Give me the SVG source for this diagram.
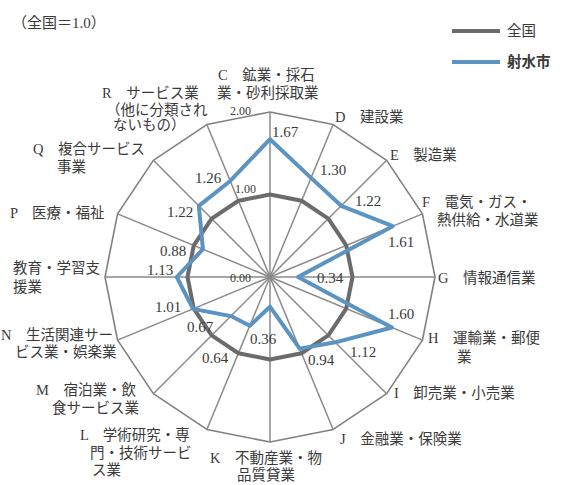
<svg xmlns="http://www.w3.org/2000/svg" width="563" height="485" viewBox="0 0 563 485">
<style>
  .lbl{font-family:"Liberation Serif","Noto Sans CJK JP",serif;font-size:14.5px;fill:#3a3a3a}
  .num{font-family:"Liberation Serif","Noto Sans CJK JP",serif;font-size:15px;fill:#3a3a3a}
  .sm{font-family:"Liberation Serif","Noto Sans CJK JP",serif;font-size:12px;fill:#3a3a3a}
  .grid{fill:none;stroke:#808080;stroke-width:1.6;stroke-linejoin:round}
  .spoke{stroke:#8a8a8a;stroke-width:1.5}
  .nat{fill:none;stroke:#6b6b6b;stroke-width:4;stroke-linejoin:round}
  .city{fill:none;stroke:#5b93c2;stroke-width:4;stroke-linejoin:round}
</style>
<rect width="563" height="485" fill="#ffffff"/>
<g id="connectors">
  <polygon class="grid" points="270,112 333.14,124.56 386.67,160.33 422.44,213.86 435,277 422.44,340.14 386.67,393.67 333.14,429.44 270,442 206.86,429.44 153.33,393.67 117.56,340.14 105,277 117.56,213.86 153.33,160.33 206.86,124.56"/>
  <g class="spoke">
    <line x1="270" y1="112" x2="270" y2="442"/>
    <line x1="333.14" y1="124.56" x2="206.86" y2="429.44"/>
    <line x1="386.67" y1="160.33" x2="153.33" y2="393.67"/>
    <line x1="422.44" y1="213.86" x2="117.56" y2="340.14"/>
    <line x1="435" y1="277" x2="105" y2="277"/>
    <line x1="422.44" y1="340.14" x2="117.56" y2="213.86"/>
    <line x1="386.67" y1="393.67" x2="153.33" y2="160.33"/>
    <line x1="333.14" y1="429.44" x2="206.86" y2="124.56"/>
  </g>
  <polygon id="national" class="nat" points="270,194.5 301.57,200.78 328.34,218.66 346.22,245.43 352.5,277 346.22,308.57 328.34,335.34 301.57,353.22 270,359.5 238.43,353.22 211.66,335.34 193.78,308.57 187.5,277 193.78,245.43 211.66,218.66 238.43,200.78"/>
  <polygon id="imizu" class="city" points="270,139.22 311.04,177.91 341.17,205.83 392.72,226.17 298.05,277 391.95,327.51 335.34,342.34 299.68,348.65 270,306.7 249.79,325.78 230.91,316.09 193.02,308.89 176.77,277 202.93,249.22 198.83,205.83 230.22,180.96"/>
</g>
<g id="scale">
  <text class="sm" x="230" y="115">2.00</text>
  <text class="sm" x="235" y="193">1.00</text>
  <text class="sm" x="230" y="282">0.00</text>
</g>
<g id="values">
  <text class="num" x="272" y="137">1.67</text>
  <text class="num" x="320" y="175">1.30</text>
  <text class="num" x="355" y="206">1.22</text>
  <text class="num" x="388" y="247">1.61</text>
  <text class="num" x="317" y="283">0.34</text>
  <text class="num" x="388" y="319">1.60</text>
  <text class="num" x="350" y="357">1.12</text>
  <text class="num" x="308" y="365">0.94</text>
  <text class="num" x="250" y="344">0.36</text>
  <text class="num" x="202" y="363">0.64</text>
  <text class="num" x="187" y="332">0.67</text>
  <text class="num" x="155" y="312">1.01</text>
  <text class="num" x="147" y="275">1.13</text>
  <text class="num" x="160" y="256">0.88</text>
  <text class="num" x="167" y="217">1.22</text>
  <text class="num" x="195" y="183">1.26</text>
</g>
<g id="axis-C"><text class="lbl" x="218" y="80">C　鉱業・採石</text><text class="lbl" x="217" y="98">業・砂利採取業</text></g>
<g id="axis-D"><text class="lbl" x="335" y="122">D　建設業</text></g>
<g id="axis-E"><text class="lbl" x="390" y="160">E　製造業</text></g>
<g id="axis-F"><text class="lbl" x="422" y="207">F　電気・ガス・</text><text class="lbl" x="437" y="225">熱供給・水道業</text></g>
<g id="axis-G"><text class="lbl" x="438" y="283">G　情報通信業</text></g>
<g id="axis-H"><text class="lbl" x="428" y="343">H　運輸業・郵便</text><text class="lbl" x="457" y="362">業</text></g>
<g id="axis-I"><text class="lbl" x="394" y="398">I　卸売業・小売業</text></g>
<g id="axis-J"><text class="lbl" x="340" y="444">J　金融業・保険業</text></g>
<g id="axis-K"><text class="lbl" x="210" y="463">K　不動産業・物</text><text class="lbl" x="237" y="480">品質貸業</text></g>
<g id="axis-L"><text class="lbl" x="80" y="440">L　学術研究・専</text><text class="lbl" x="90" y="458">門・技術サービ</text><text class="lbl" x="92" y="475">ス業</text></g>
<g id="axis-M"><text class="lbl" x="36" y="395">M　宿泊業・飲</text><text class="lbl" x="52" y="413">食サービス業</text></g>
<g id="axis-N"><text class="lbl" x="1" y="340">N　生活関連サー</text><text class="lbl" x="15" y="357">ビス業・娯楽業</text></g>
<g id="axis-O"><text class="lbl" x="13" y="273">教育・学習支</text><text class="lbl" x="13" y="292">援業</text></g>
<g id="axis-P"><text class="lbl" x="10" y="218">P　医療・福祉</text></g>
<g id="axis-Q"><text class="lbl" x="33" y="154">Q　複合サービス</text><text class="lbl" x="57" y="172">事業</text></g>
<g id="axis-R"><text class="lbl" x="102" y="98">R　サービス業</text><text class="lbl" x="106" y="115">（他に分類され</text><text class="lbl" x="113" y="130">ないもの）</text></g>
<g id="title"><text class="num" x="12" y="28">（全国＝1.0）</text></g>
<g id="legend">
  <line x1="452" y1="31" x2="500" y2="31" stroke="#6b6b6b" stroke-width="4"/>
  <text class="lbl" x="507" y="36">全国</text>
  <line x1="452" y1="62" x2="500" y2="62" stroke="#5b93c2" stroke-width="4"/>
  <text class="lbl" x="507" y="67" font-weight="bold">射水市</text>
</g>
</svg>
